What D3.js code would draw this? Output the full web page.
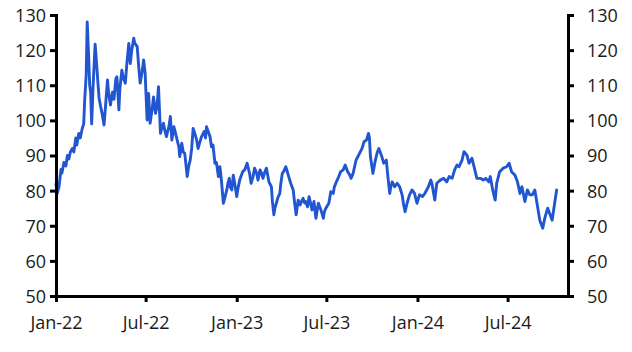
<!DOCTYPE html>
<html>
<head>
<meta charset="utf-8">
<script src="https://cdn.jsdelivr.net/npm/d3@7"></script>
<style>
  html, body { margin: 0; padding: 0; background: #ffffff; }
  svg { display: block; }
  .tick text { font-family: "Open Sans", "Noto Sans", sans-serif; font-size: 18px; fill: #1a1a1a; }
</style>
</head>
<body>
<svg id="chart" width="632" height="352"></svg>
<script>
const dates = [
"2022-01-01","2022-01-03","2022-01-07","2022-01-11","2022-01-13","2022-01-17","2022-01-21","2022-01-24","2022-01-27","2022-01-30",
"2022-02-03","2022-02-06","2022-02-10","2022-02-12","2022-02-16","2022-02-19","2022-02-23","2022-02-26","2022-02-28","2022-03-03",
"2022-03-05","2022-03-08","2022-03-10","2022-03-12","2022-03-14","2022-03-17","2022-03-21","2022-03-23","2022-03-25","2022-03-27",
"2022-03-29","2022-04-01","2022-04-04","2022-04-08","2022-04-11","2022-04-15","2022-04-17","2022-04-21","2022-04-25","2022-04-28",
"2022-05-02","2022-05-04","2022-05-08","2022-05-10","2022-05-14","2022-05-17","2022-05-21","2022-05-24","2022-05-28","2022-05-31",
"2022-06-03","2022-06-07","2022-06-09","2022-06-14","2022-06-17","2022-06-20","2022-06-24","2022-06-27","2022-06-30","2022-07-04",
"2022-07-07","2022-07-10","2022-07-14","2022-07-17","2022-07-21","2022-07-24","2022-07-27","2022-07-31","2022-08-03","2022-08-06",
"2022-08-09","2022-08-12","2022-08-17","2022-08-20","2022-08-23","2022-08-27","2022-09-01","2022-09-06","2022-09-08","2022-09-12",
"2022-09-15","2022-09-18","2022-09-23","2022-09-26","2022-09-29","2022-10-02","2022-10-05","2022-10-09","2022-10-12","2022-10-15",
"2022-10-19","2022-10-22","2022-10-27","2022-10-30","2022-11-01","2022-11-04","2022-11-08","2022-11-11","2022-11-14","2022-11-18",
"2022-11-21","2022-11-25","2022-11-28","2022-12-01","2022-12-05","2022-12-08","2022-12-12","2022-12-14","2022-12-17","2022-12-19",
"2022-12-22","2022-12-25","2022-12-28","2023-01-01","2023-01-04","2023-01-07","2023-01-13","2023-01-17","2023-01-22","2023-01-25",
"2023-01-27","2023-01-30","2023-02-03","2023-02-06","2023-02-10","2023-02-13","2023-02-17","2023-02-20","2023-02-23","2023-02-26",
"2023-03-02","2023-03-05","2023-03-07","2023-03-12","2023-03-14","2023-03-17","2023-03-19","2023-03-22","2023-03-25","2023-03-29",
"2023-03-31","2023-04-03","2023-04-06","2023-04-10","2023-04-12","2023-04-14","2023-04-20","2023-04-25","2023-04-28","2023-05-01",
"2023-05-05","2023-05-09","2023-05-12","2023-05-15","2023-05-18","2023-05-20","2023-05-24","2023-05-27","2023-05-30","2023-06-02",
"2023-06-06","2023-06-10","2023-06-13","2023-06-15","2023-06-20","2023-06-25","2023-06-27","2023-06-30","2023-07-06","2023-07-10",
"2023-07-15","2023-07-17","2023-07-20","2023-07-26","2023-07-30","2023-08-04","2023-08-08","2023-08-13","2023-08-17","2023-08-20",
"2023-08-24","2023-08-30","2023-09-02","2023-09-06","2023-09-11","2023-09-15","2023-09-20","2023-09-24","2023-09-26","2023-09-28",
"2023-10-03","2023-10-08","2023-10-12","2023-10-15","2023-10-21","2023-10-25","2023-10-30","2023-11-03","2023-11-06","2023-11-08",
"2023-11-11","2023-11-16","2023-11-21","2023-11-26","2023-12-01","2023-12-04","2023-12-07","2023-12-11","2023-12-16","2023-12-21",
"2023-12-26","2023-12-31","2024-01-05","2024-01-11","2024-01-16","2024-01-23","2024-01-28","2024-01-30","2024-02-05","2024-02-09",
"2024-02-16","2024-02-23","2024-02-29","2024-03-05","2024-03-11","2024-03-16","2024-03-21","2024-03-25","2024-03-31","2024-04-04",
"2024-04-10","2024-04-14","2024-04-20","2024-04-25","2024-04-30","2024-05-07","2024-05-13","2024-05-18","2024-05-24","2024-05-27",
"2024-06-01","2024-06-05","2024-06-06","2024-06-09","2024-06-15","2024-06-22","2024-06-29","2024-07-04","2024-07-09","2024-07-16",
"2024-07-21","2024-07-26","2024-07-30","2024-08-05","2024-08-10","2024-08-15","2024-08-20","2024-08-25","2024-08-30","2024-09-04",
"2024-09-10","2024-09-14","2024-09-20","2024-09-24","2024-09-29","2024-10-03","2024-10-08"
];
const values = [
82,79,81,86,85,88,87,90,89,91,
92,91,95,93,96.3,95,97.7,99,106,113,
128,118,110,108,99,110,121.7,118,114,110,
106.4,104,102,98.7,104,111.5,108,104.4,108,106,
112,112.4,103,109,114.3,112,110.6,116,121.9,116.2,
120,123.4,122,121,115.3,110.6,114,117.2,113.4,100.1,
107.7,99.2,103,106.7,102,103.9,109.6,96.3,98,99.2,
97,95.4,98.2,101.1,94.4,98.2,95.4,92.5,89.7,93.5,
91,90.6,84,87,88.7,92,97.7,96,94.4,92,
94,95.4,96.8,95,98.2,97,95.4,92.5,93,87.8,
88,84,86.8,83,76.4,78,80.2,82,83.5,81,
80.2,84.4,82,78.3,81,83,85.4,85.9,87.8,86,
84.9,82.1,84,86.4,85,83,85.9,85,83.5,85,
86.4,84,82.5,81.1,77,73.1,75,76.4,78,79.2,
82,84.9,85.5,86.8,86,84.9,82.1,80.2,76.4,73.1,
77.3,75.9,77,77.8,76.5,76.9,75.4,78.3,76.5,74.5,
76.9,72.1,75,76.4,74.5,72.1,74,75,76.4,79.7,
79.2,81,82.1,84,85.4,85.9,87.3,85.4,84.5,83.5,
84.9,88.7,89.5,90.6,92,93.9,94.4,96.3,95,89.7,
84.9,88.7,91,92,89.7,87.8,88.7,83,79.2,81,
82.5,81.1,82.1,81.1,78.8,76,74,76.4,78.8,80.2,
79.2,76.4,78.8,78.3,79.2,81.1,83,82.1,77.3,82.1,
83,83.5,82.5,84,83.5,85.9,87.3,86.8,88.7,91.1,
90.1,87.8,89.2,86.4,83.5,83.5,83,83.5,82.5,84,
80.2,77.8,77.3,82.1,85.4,86.4,86.8,87.8,85.4,84.4,
82.5,79.2,81.1,76.9,80.2,78.8,78.8,80.2,75.9,71.6,
69.3,72.1,75,73.5,71.6,75.4,80.2
];
const yTicks = [50, 60, 70, 80, 90, 100, 110, 120, 130];
const xTickDates = ["2022-01-01","2022-07-01","2023-01-01","2023-07-01","2024-01-01","2024-07-01"];
const xTickLabels = ["Jan-22","Jul-22","Jan-23","Jul-23","Jan-24","Jul-24"];
const xDomain = ["2022-01-01","2024-10-31"];
const yDomain = [50, 130];

const parse = d3.utcParse("%Y-%m-%d");
const W = 632, H = 352;
const margin = {top: 15, right: 64, bottom: 56, left: 56};
const svg = d3.select("#chart");

const x = d3.scaleUtc().domain(xDomain.map(parse)).range([margin.left, W - margin.right]);
const y = d3.scaleLinear().domain(yDomain).range([H - margin.bottom, margin.top]);

const data = dates.map((d, i) => ({date: parse(d), value: values[i]}));

const line = d3.line().x(d => x(d.date)).y(d => y(d.value)).curve(d3.curveLinear);

svg.append("path")
  .datum(data)
  .attr("fill", "none")
  .attr("stroke", "#2156d0")
  .attr("stroke-width", 2.9)
  .attr("stroke-linejoin", "round")
  .attr("stroke-linecap", "round")
  .attr("d", line);

function styleAxis(g) {
  g.selectAll(".domain").attr("stroke", "#000").attr("stroke-width", 3);
  g.selectAll(".tick line").attr("stroke", "#000").attr("stroke-width", 3);
}

const yLeft = d3.axisLeft(y).tickValues(yTicks).tickSize(6).tickPadding(4).tickSizeOuter(0);
svg.append("g").attr("transform", `translate(${margin.left},0)`).call(yLeft).call(styleAxis)
  .selectAll(".tick text").attr("dy", "0.36em");

const yRight = d3.axisRight(y).tickValues(yTicks).tickSize(6).tickPadding(13).tickSizeOuter(0);
svg.append("g").attr("transform", `translate(${W - margin.right},0)`).call(yRight).call(styleAxis)
  .selectAll(".tick text").attr("dy", "0.36em");

const xAxis = d3.axisBottom(x)
  .tickValues(xTickDates.map(parse))
  .tickFormat((d, i) => xTickLabels[i])
  .tickSize(6).tickPadding(14).tickSizeOuter(0);
svg.append("g").attr("transform", `translate(0,${H - margin.bottom})`).call(xAxis).call(styleAxis);
svg.selectAll(".domain").attr("stroke-linecap", "square");
</script>
</body>
</html>
